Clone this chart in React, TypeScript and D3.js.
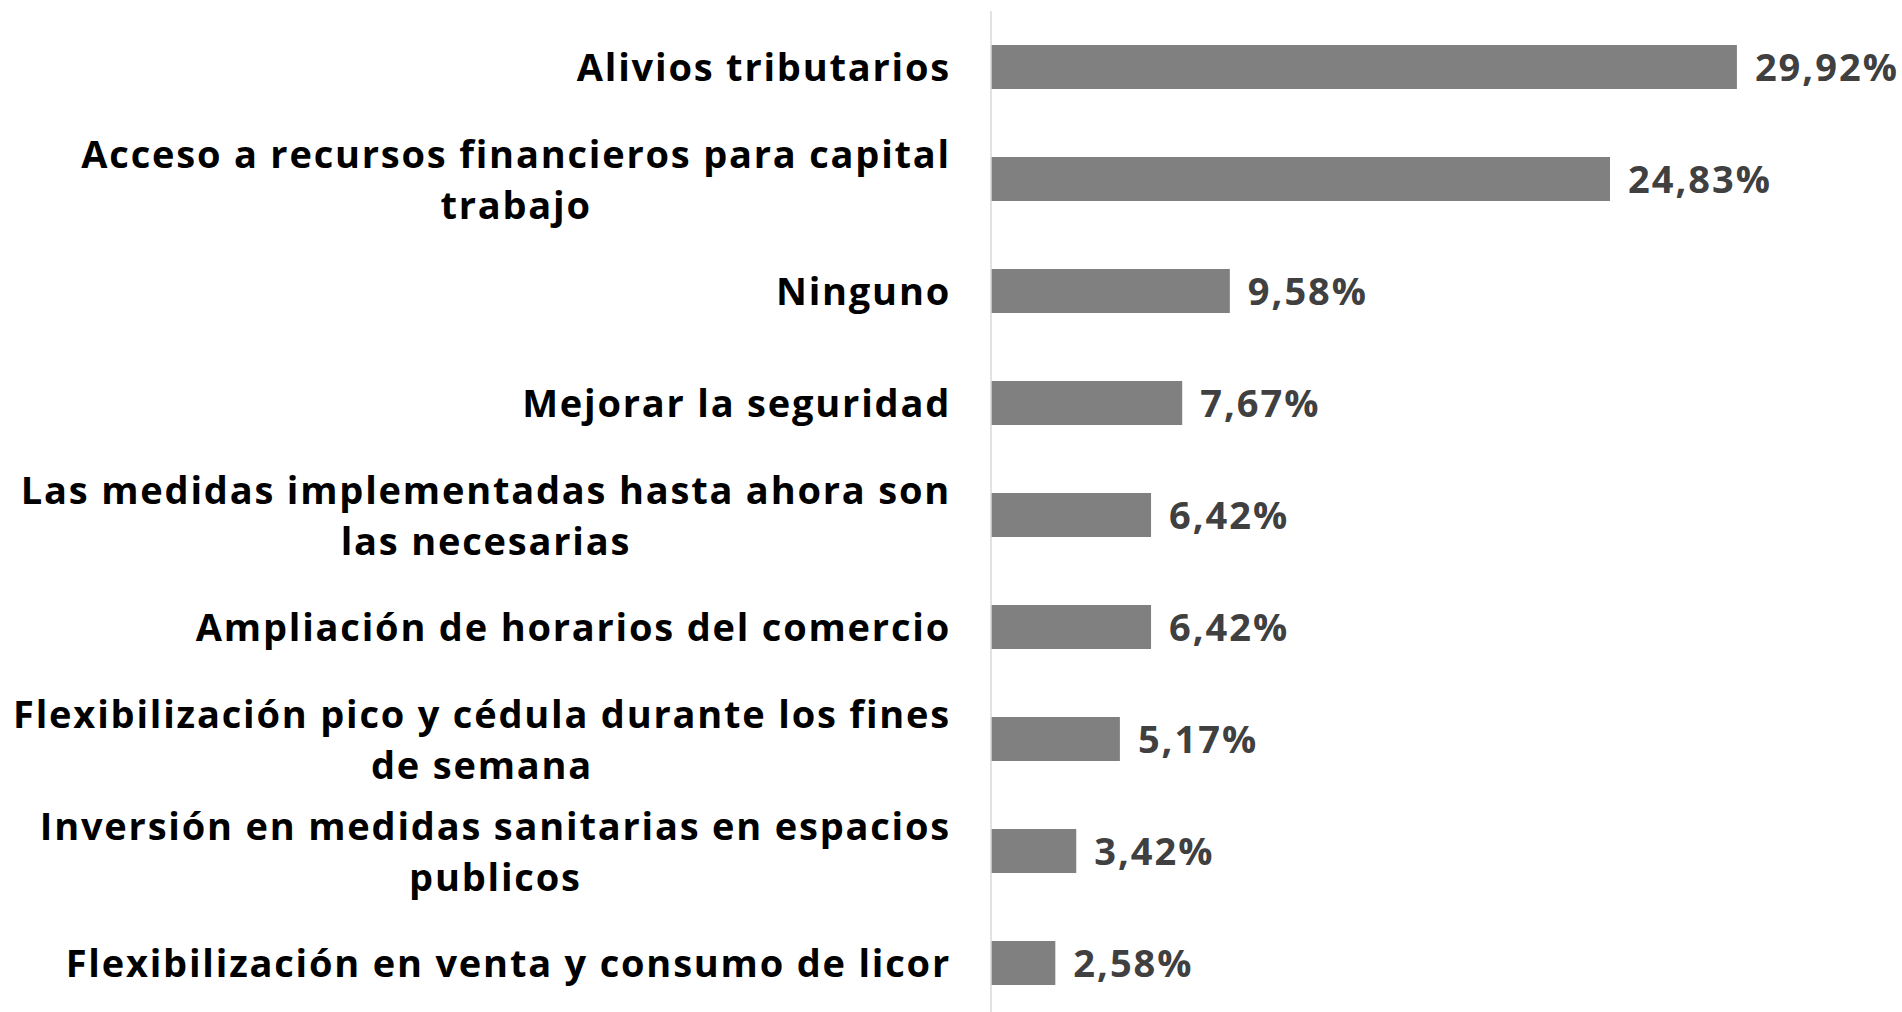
import { useEffect, useRef } from "react";
import * as d3 from "d3";

const categories = [
	"Alivios tributarios",
	"Acceso a recursos financieros para capital\ntrabajo",
	"Ninguno",
	"Mejorar la seguridad",
	"Las medidas implementadas hasta ahora son\nlas necesarias",
	"Ampliación de horarios del comercio",
	"Flexibilización pico y cédula durante los fines\nde semana",
	"Inversión en medidas sanitarias en espacios\npublicos",
	"Flexibilización en venta y consumo de licor",
];

const values = [29.92, 24.83, 9.58, 7.67, 6.42, 6.42, 5.17, 3.42, 2.58];

const formatPct = (v: number) => `${v.toFixed(2).replace(".", ",")}%`;

export default function App() {
	const ref = useRef<SVGSVGElement>(null);

	useEffect(() => {
		if (!ref.current) return;
		document.body.style.margin = "0";

		const width = 1902;
		const height = 1012;
		const axisX = 991;
		const labelRight = 951;
		const fontFamily = "'Open Sans', sans-serif";

		const svg = d3.select(ref.current);
		svg.selectAll("*").remove();

		const x = d3.scaleLinear().domain([0, 35]).range([axisX, axisX + 35 * 24.93]);
		const y = d3
			.scaleBand<number>()
			.domain(d3.range(categories.length))
			.range([11, 1019])
			.paddingInner(0.607)
			.paddingOuter(0.3035);

		const rows = svg
			.selectAll("g.row")
			.data(values)
			.join("g")
			.attr("class", "row");

		rows
			.append("rect")
			.attr("x", x(0))
			.attr("y", (_, i) => y(i) ?? 0)
			.attr("width", (d) => x(d) - x(0))
			.attr("height", y.bandwidth())
			.attr("fill", "#808080");

		rows
			.append("text")
			.attr("x", (d) => x(d) + 18)
			.attr("y", (_, i) => (y(i) ?? 0) + y.bandwidth() / 2)
			.attr("dy", "0.38em")
			.attr("font-family", fontFamily)
			.attr("font-weight", 700)
			.attr("font-size", 38)
			.attr("letter-spacing", 2)
			.attr("fill", "#404040")
			.text((d) => formatPct(d));

		const lineGap = 51;
		const labels = svg
			.selectAll("text.label")
			.data(categories)
			.join("text")
			.attr("class", "label")
			.attr("font-family", fontFamily)
			.attr("font-weight", 700)
			.attr("font-size", 38)
			.attr("letter-spacing", 1.8)
			.attr("fill", "#000000");

		labels.each(function (d, i) {
			const lines = d.split("\n");
			const cy = (y(i) ?? 0) + y.bandwidth() / 2;
			const firstY = cy - ((lines.length - 1) * lineGap) / 2;
			const el = d3.select(this);
			lines.forEach((line, k) => {
				el.append("tspan")
					.attr("x", labelRight)
					.attr("y", firstY + k * lineGap)
					.attr("dy", "0.38em")
					.attr("text-anchor", lines.length > 1 ? "middle" : "end")
					.text(line);
			});
			if (lines.length > 1) {
				const first = (this as SVGTextElement).querySelector("tspan") as SVGTSpanElement;
				const w = first.getComputedTextLength();
				el.selectAll("tspan").attr("x", labelRight - w / 2);
			}
		});

		svg
			.append("line")
			.attr("x1", axisX)
			.attr("x2", axisX)
			.attr("y1", 11)
			.attr("y2", height)
			.attr("stroke", "#d9d9d9")
			.attr("stroke-width", 1.5);

		svg.attr("width", width).attr("height", height);
	}, []);

	return <svg ref={ref} width={1902} height={1012} style={{ display: "block", background: "#ffffff" }} />;
}
